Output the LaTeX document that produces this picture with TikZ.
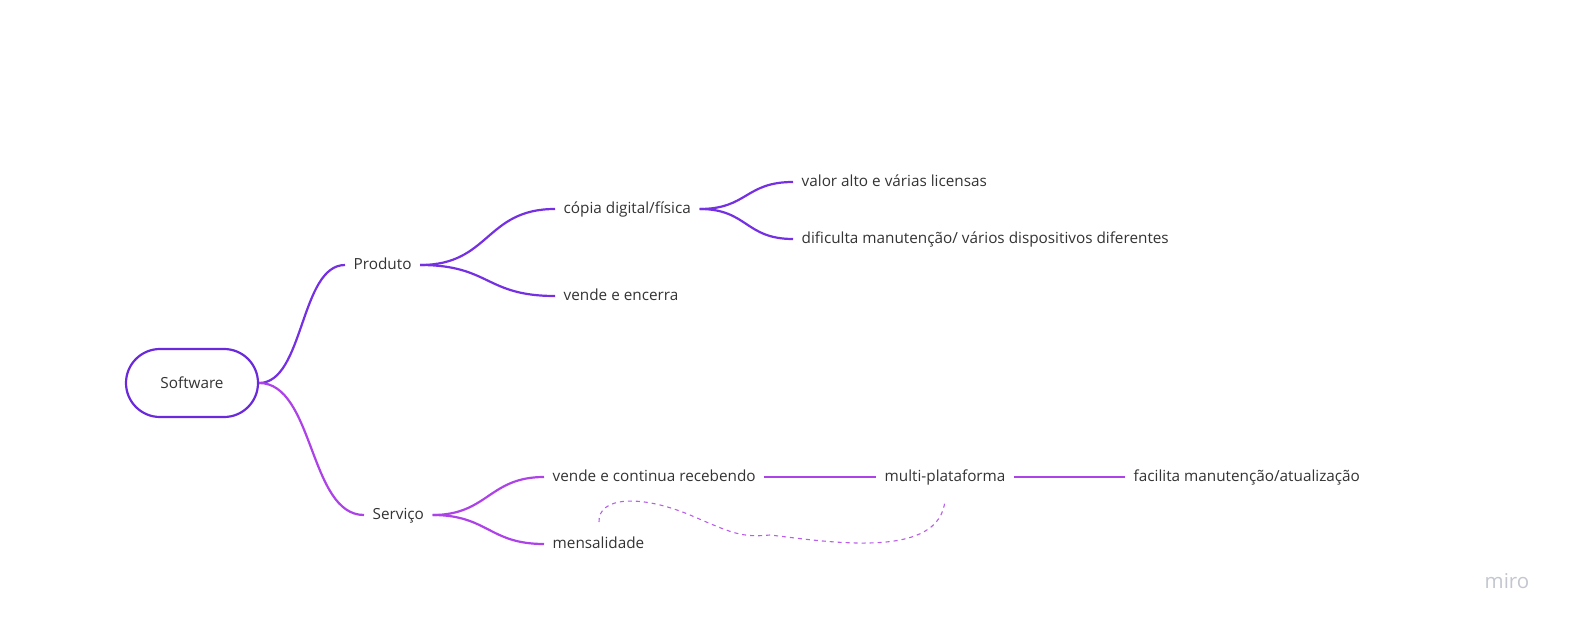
\documentclass[tikz,border=0pt]{standalone}
\usepackage{fontspec}
\setmainfont{Open Sans}
\usetikzlibrary{calc}
\definecolor{prodc}{HTML}{7430E2}
\definecolor{servc}{HTML}{AD42E8}
\definecolor{boxc}{HTML}{6A2ADB}
\definecolor{txt}{HTML}{333333}
\definecolor{miroc}{HTML}{C3C6CF}
\tikzset{
  lbl/.style={anchor=west, inner xsep=8.5bp, inner ysep=0pt, text height=11bp, text depth=2bp, text=txt, font=\fontsize{15.3bp}{17bp}\selectfont},
  prodline/.style={draw=prodc, line width=2.2bp},
  servline/.style={draw=servc, line width=2.2bp},
}
\begin{document}
\begin{tikzpicture}[x=1bp,y=-1bp]
\useasboundingbox (0,0) rectangle (1584,631);
% root
\node[draw=boxc, line width=2.2bp, rounded corners=34bp, minimum width=132bp, minimum height=68bp, text=txt, font=\fontsize{15.3bp}{17bp}\selectfont, inner sep=0pt] (sw) at (192,383) {Software};
% level 1
\node[lbl] (prod) at (345,265) {Produto};
\node[lbl] (serv) at (364,515) {Serviço};
% produto children
\node[lbl] (copia) at (555,209) {cópia digital/física};
\node[lbl] (vende) at (555,296) {vende e encerra};
\node[lbl] (valor) at (793,182) {valor alto e várias licensas};
\node[lbl] (dific) at (793,239) {dificulta manutenção/ vários dispositivos diferentes};
% servico children
\node[lbl] (cont) at (544,477) {vende e continua recebendo};
\node[lbl] (mens) at (544,544) {mensalidade};
\node[lbl] (multi) at (876,477) {multi-plataforma};
\node[lbl] (facil) at (1125,477) {facilita manutenção/atualização};
% connectors
\draw[prodline] (sw.east) .. controls +(45,0) and +(-45,0) .. (prod.west);
\draw[servline] (sw.east) .. controls +(55,0) and +(-55,0) .. (serv.west);
\draw[prodline] (prod.east) .. controls +(70,0) and +(-70,0) .. (copia.west);
\draw[prodline] (prod.east) .. controls +(70,0) and +(-70,0) .. (vende.west);
\draw[prodline] (copia.east) .. controls +(48,0) and +(-48,0) .. (valor.west);
\draw[prodline] (copia.east) .. controls +(48,0) and +(-48,0) .. (dific.west);
\draw[servline] (serv.east) .. controls +(55,0) and +(-55,0) .. (cont.west);
\draw[servline] (serv.east) .. controls +(55,0) and +(-55,0) .. (mens.west);
\draw[servline] (cont.east) -- (multi.west);
\draw[servline] (multi.east) -- (facil.west);
% dashed link
\coordinate (d1) at (599,522);
\coordinate (d2) at (945,500);
\draw[servc!85, line width=1.1bp, dash pattern=on 4bp off 4bp]
  (d1) .. controls (598,497) and (640,494) .. (690,515)
  .. controls (730,532) and (740,538) .. (770,535)
  .. controls (830,542) and (940,560) .. (d2);
% watermark
\node[text=miroc, font=\fontsize{20.5bp}{22bp}\selectfont, anchor=center, inner sep=0pt] (miro) at (1507,581) {miro};
\end{tikzpicture}
\end{document}
